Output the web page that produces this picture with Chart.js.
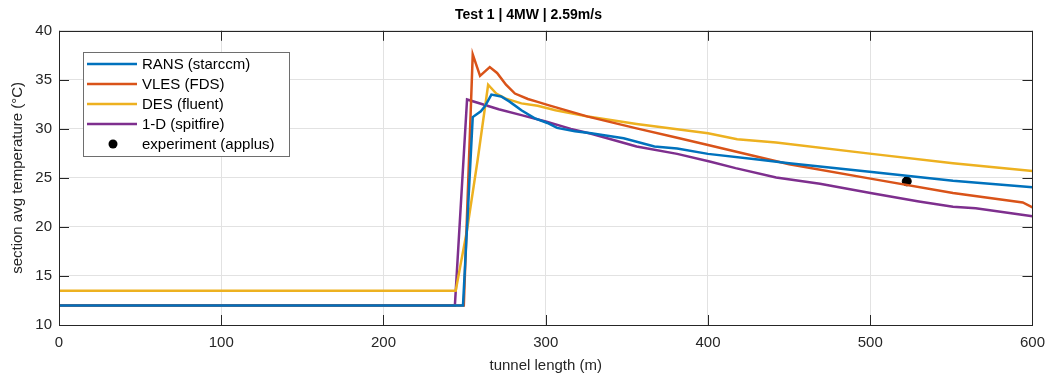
<!DOCTYPE html>
<html>
<head>
<meta charset="utf-8">
<script src="https://cdn.jsdelivr.net/npm/chart.js@4.4.0/dist/chart.umd.min.js"></script>
<style>
  html, body { margin: 0; padding: 0; background: #fff; }
  #wrap { width: 1054px; height: 383px; position: relative; }
</style>
</head>
<body>
<div id="wrap"><canvas id="tempChart"></canvas></div>
<script>
// data
const xTickValues = [0, 100, 200, 300, 400, 500, 600];
const yTickValues = [10, 15, 20, 25, 30, 35, 40];

const ransLength = [0, 249, 255, 260, 262.5, 266.5, 272.5, 277.5, 285, 293, 301, 307, 318, 328, 348, 367, 381, 400, 432, 450, 501, 551, 600];
const ransTemp   = [12, 12, 31.2, 31.8, 32.3, 33.5, 33.3, 32.8, 31.9, 31.1, 30.6, 30.1, 29.75, 29.55, 29.05, 28.2, 28.0, 27.45, 26.85, 26.5, 25.6, 24.7, 24.05];

const vlesLength = [0, 249.5, 255, 259.5, 265.5, 270, 275.5, 281, 289, 295, 301, 326, 356, 381, 400, 450, 501, 551, 594, 600];
const vlesTemp   = [12, 12, 37.6, 35.4, 36.3, 35.7, 34.5, 33.6, 33.05, 32.75, 32.45, 31.25, 30.05, 29.1, 28.35, 26.4, 24.9, 23.45, 22.5, 22.0];

const desLength = [0, 244.5, 251.5, 258, 264.5, 269.5, 275, 285, 295, 306, 326, 356, 381, 400, 418, 442, 501, 551, 600];
const desTemp   = [13.5, 13.5, 19.7, 26.8, 34.5, 33.6, 33.1, 32.6, 32.35, 31.9, 31.25, 30.5, 29.95, 29.55, 28.95, 28.6, 27.45, 26.5, 25.7];

const oneDLength = [0, 244, 251.5, 271, 285, 300, 315.5, 328, 356, 381, 401, 417, 442, 469, 501, 530, 551, 565, 600];
const oneDTemp   = [12, 12, 33, 32.0, 31.4, 30.75, 30.0, 29.5, 28.2, 27.45, 26.67, 26.0, 25.05, 24.4, 23.44, 22.6, 22.05, 21.9, 21.1];

const expLength = [522.5];
const expTemp   = [24.65];

const toPoints = (xs, ys) => xs.map((x, i) => ({ x: x, y: ys[i] }));

const axisColor = "#262626";
const fontFamily = '"Liberation Sans", Arial, Helvetica, sans-serif';

Chart.defaults.font.family = fontFamily;
Chart.defaults.color = axisColor;

// matlab style box with inward ticks
const boxPlugin = {
    id: "boxPlugin",
    afterDatasetsDraw(chart) {
        const { ctx, chartArea, scales } = chart;
        const { left, right, top, bottom } = chartArea;
        const tl = 10;
        ctx.save();
        ctx.strokeStyle = axisColor;
        ctx.lineWidth = 1;
        ctx.beginPath();
        scales.x.ticks.forEach(t => {
            const px = Math.round(scales.x.getPixelForValue(t.value)) + 0.5;
            ctx.moveTo(px, bottom); ctx.lineTo(px, bottom - tl);
            ctx.moveTo(px, top); ctx.lineTo(px, top + tl);
        });
        scales.y.ticks.forEach(t => {
            const py = Math.round(scales.y.getPixelForValue(t.value)) + 0.5;
            ctx.moveTo(left, py); ctx.lineTo(left + tl, py);
            ctx.moveTo(right, py); ctx.lineTo(right - tl, py);
        });
        ctx.stroke();
        ctx.strokeRect(Math.round(left) + 0.5, Math.round(top) + 0.5, Math.round(right - left), Math.round(bottom - top));
        ctx.restore();
    }
};

// legend box inside the axes
const insideLegend = {
    id: "insideLegend",
    afterDraw(chart) {
        const { ctx, chartArea } = chart;
        const x0 = Math.round(chartArea.left) + 24;
        const y0 = Math.round(chartArea.top) + 21;
        const w = 206, h = 104;
        ctx.save();
        ctx.fillStyle = "#fff";
        ctx.fillRect(x0, y0, w, h);
        ctx.strokeStyle = "#6e6e6e";
        ctx.lineWidth = 1;
        ctx.strokeRect(x0 + 0.5, y0 + 0.5, w, h);
        ctx.font = "15px " + fontFamily;
        ctx.textBaseline = "middle";
        chart.data.datasets.forEach((ds, i) => {
            const y = y0 + 12 + i * 20;
            if (ds.showLine === false) {
                ctx.fillStyle = ds.pointBackgroundColor;
                ctx.beginPath();
                ctx.arc(x0 + 30, y, 4.5, 0, Math.PI * 2);
                ctx.fill();
            } else {
                ctx.strokeStyle = ds.borderColor;
                ctx.lineWidth = 2.5;
                ctx.beginPath();
                ctx.moveTo(x0 + 4, y);
                ctx.lineTo(x0 + 54, y);
                ctx.stroke();
            }
            ctx.fillStyle = "#000";
            ctx.fillText(ds.label, x0 + 59, y + 1);
        });
        ctx.restore();
    }
};

const lineSet = (label, xs, ys, color) => ({
    label: label,
    data: toPoints(xs, ys),
    borderColor: color,
    backgroundColor: color,
    borderWidth: 2.5,
    pointRadius: 0,
    tension: 0,
    fill: false
});

new Chart(document.getElementById("tempChart"), {
    type: "line",
    data: {
        datasets: [
            lineSet("RANS (starccm)", ransLength, ransTemp, "#0072BD"),
            lineSet("VLES (FDS)", vlesLength, vlesTemp, "#D95319"),
            lineSet("DES (fluent)", desLength, desTemp, "#EDB120"),
            lineSet("1-D (spitfire)", oneDLength, oneDTemp, "#7E2F8E"),
            {
                label: "experiment (applus)",
                data: toPoints(expLength, expTemp),
                showLine: false,
                pointRadius: 4.5,
                pointBackgroundColor: "#000",
                pointBorderColor: "#000",
                borderColor: "#000",
                backgroundColor: "#000"
            }
        ]
    },
    options: {
        responsive: true,
        maintainAspectRatio: false,
        animation: false,
        devicePixelRatio: 1,
        layout: { padding: { left: 20, right: 17, top: 0, bottom: 0 } },
        plugins: {
            legend: { display: false },
            tooltip: { enabled: false },
            title: {
                display: true,
                text: "Test 1 | 4MW | 2.59m/s",
                color: "#000",
                font: { size: 14, weight: "bold", lineHeight: 1.2 },
                padding: { top: 7, bottom: 7 }
            }
        },
        scales: {
            x: {
                type: "linear",
                min: 0,
                max: 600,
                afterBuildTicks: s => { s.ticks = xTickValues.map(v => ({ value: v })); },
                afterFit: s => { s.height = 58; },
                grid: { color: "#e2e2e2", lineWidth: 1, drawTicks: false },
                border: { display: false },
                ticks: { padding: 9, font: { size: 15 }, color: axisColor, maxRotation: 0 },
                title: {
                    display: true,
                    text: "tunnel length (m)",
                    font: { size: 15, lineHeight: 1.2 },
                    color: axisColor,
                    padding: { top: 0, bottom: 8 }
                }
            },
            y: {
                min: 10,
                max: 40,
                afterBuildTicks: s => { s.ticks = yTickValues.map(v => ({ value: v })); },
                afterFit: s => { s.width = 39; },
                grid: { color: "#e2e2e2", lineWidth: 1, drawTicks: false },
                border: { display: false },
                ticks: { padding: 7, font: { size: 15 }, color: axisColor },
                title: {
                    display: true,
                    text: "section avg temperature (°C)",
                    font: { size: 15, lineHeight: 1.2 },
                    color: axisColor,
                    padding: { top: -11, bottom: 0 }
                }
            }
        }
    },
    plugins: [boxPlugin, insideLegend]
});
</script>
</body>
</html>
